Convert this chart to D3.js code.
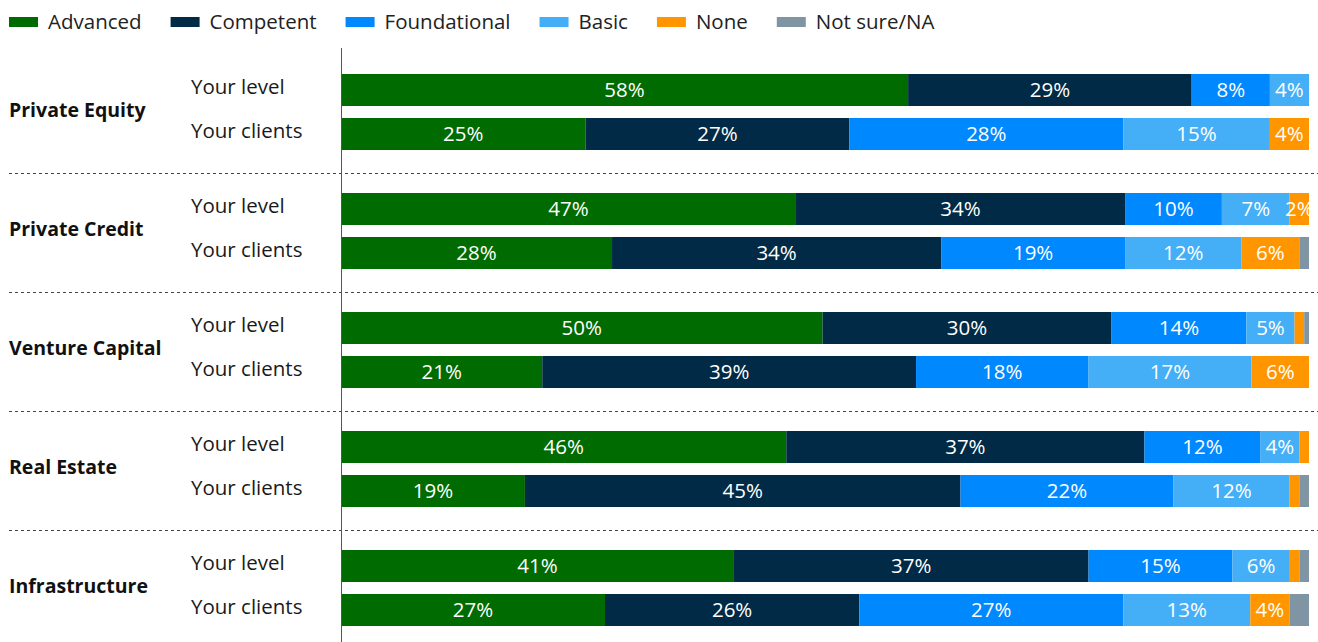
<!DOCTYPE html>
<html>
<head>
<meta charset="utf-8">
<script src="https://cdn.jsdelivr.net/npm/d3@7"></script>
<style>
  html, body { margin: 0; padding: 0; background: #fff; }
  svg { display: block; font-family: "Open Sans", "Noto Sans", sans-serif; }
</style>
</head>
<body>
<svg id="chart" width="1318" height="642"></svg>
<script>
// Asset classes and the two rows shown for each
const categories = ["Private Equity", "Private Credit", "Venture Capital", "Real Estate", "Infrastructure"];
const rowTypes = ["Your level", "Your clients"];

// Proficiency levels (stack order) and their colours
const levels = ["Advanced", "Competent", "Foundational", "Basic", "None", "Not sure/NA"];
const levelColors = ["#006b00", "#002a46", "#0088ff", "#44aff6", "#ff9600", "#7f95a3"];

// Shares in %, one entry per row: for each category "Your level" then "Your clients"
const advanced     = [58, 25, 47, 28, 50, 21, 46, 19, 41, 27];
const competent    = [29, 27, 34, 34, 30, 39, 37, 45, 37, 26];
const foundational = [ 8, 28, 10, 19, 14, 18, 12, 22, 15, 27];
const basic        = [ 4, 15,  7, 12,  5, 17,  4, 12,  6, 13];
const none         = [ 0,  4,  2,  6,  1,  6,  1,  1,  1,  4];
const notSure      = [ 0,  0,  0,  1, 0.5, 0,  0,  1,  1,  2];

const seriesValues = [advanced, competent, foundational, basic, none, notSure];
// Levels whose shares are written on the bars
const labelledLevels = ["Advanced", "Competent", "Foundational", "Basic", "None"];

// Build one record per bar
const rows = [];
categories.forEach((cat, ci) => {
  rowTypes.forEach((rt, ri) => {
    const idx = ci * rowTypes.length + ri;
    const rec = { category: cat, rowType: rt };
    levels.forEach((lv, li) => { rec[lv] = seriesValues[li][idx]; });
    rows.push(rec);
  });
});

const svg = d3.select("#chart");
const W = 1318, H = 642;
const FS = 20.5;

// Scales
const x = d3.scaleLinear().domain([0, 1]).range([341, 1309]);
const yGroup = d3.scaleBand().domain(categories).range([52.5, 647.5]);
const yRow = d3.scaleBand().domain(rowTypes).range([21.5, 97.5]).paddingInner(12 / 44);
const color = d3.scaleOrdinal().domain(levels).range(levelColors);

// 100% stacked layout
const stack = d3.stack().keys(levels).offset(d3.stackOffsetExpand);
const stacked = stack(rows);

// Legend
const legend = svg.append("g").attr("class", "legend");
let lx = 9;
levels.forEach(lv => {
  const g = legend.append("g");
  g.append("rect").attr("x", lx).attr("y", 17).attr("width", 29).attr("height", 10).attr("fill", color(lv));
  const t = g.append("text").attr("x", lx + 39).attr("y", 22).attr("dy", "0.35em")
    .attr("font-size", FS).attr("fill", "#222").text(lv);
  lx += 39 + t.node().getComputedTextLength() + 29;
});

// Dashed dividers between groups
const dividers = categories.slice(1);
svg.append("g").selectAll("line").data(dividers).join("line")
  .attr("x1", 9).attr("x2", W)
  .attr("y1", d => Math.round(yGroup(d)) + 1.5)
  .attr("y2", d => Math.round(yGroup(d)) + 1.5)
  .attr("stroke", "#444").attr("stroke-width", 1).attr("stroke-dasharray", "3,3");

// Bars
const barLayer = svg.append("g");
stacked.forEach(layer => {
  barLayer.append("g").attr("fill", color(layer.key))
    .selectAll("rect").data(layer).join("rect")
    .attr("x", d => x(d[0]))
    .attr("width", d => Math.max(0, x(d[1]) - x(d[0])))
    .attr("y", d => yGroup(d.data.category) + yRow(d.data.rowType))
    .attr("height", yRow.bandwidth());
});

// Value labels, clipped to the plot area
svg.append("clipPath").attr("id", "plotClip")
  .append("rect").attr("x", x(0)).attr("y", 0).attr("width", x(1) - x(0) + 1).attr("height", H);
const labelLayer = svg.append("g").attr("clip-path", "url(#plotClip)");
stacked.filter(layer => labelledLevels.includes(layer.key)).forEach(layer => {
  labelLayer.append("g").selectAll("text")
    .data(layer.filter(d => d.data[layer.key] >= 2))
    .join("text")
    .attr("x", d => (x(d[0]) + x(d[1])) / 2)
    .attr("y", d => yGroup(d.data.category) + yRow(d.data.rowType) + yRow.bandwidth() / 2)
    .attr("dy", "0.35em")
    .attr("text-anchor", "middle")
    .attr("font-size", FS)
    .attr("fill", "#fff")
    .text(d => `${d.data[layer.key]}%`);
});

// Vertical axis line
svg.append("line").attr("x1", 341.5).attr("x2", 341.5).attr("y1", 48).attr("y2", H)
  .attr("stroke", "#555").attr("stroke-width", 1);

// Row labels
svg.append("g").selectAll("text").data(rows).join("text")
  .attr("x", 191)
  .attr("y", d => yGroup(d.category) + yRow(d.rowType) + yRow.bandwidth() / 2 - 3)
  .attr("dy", "0.35em")
  .attr("font-size", FS).attr("fill", "#1a1a1a")
  .text(d => d.rowType);

// Category labels
svg.append("g").selectAll("text").data(categories).join("text")
  .attr("x", 9)
  .attr("y", d => yGroup(d) + yGroup.bandwidth() / 2 - 2)
  .attr("dy", "0.35em")
  .attr("font-size", 19.5).attr("font-weight", "bold").attr("fill", "#111")
  .text(d => d);
</script>
</body>
</html>
